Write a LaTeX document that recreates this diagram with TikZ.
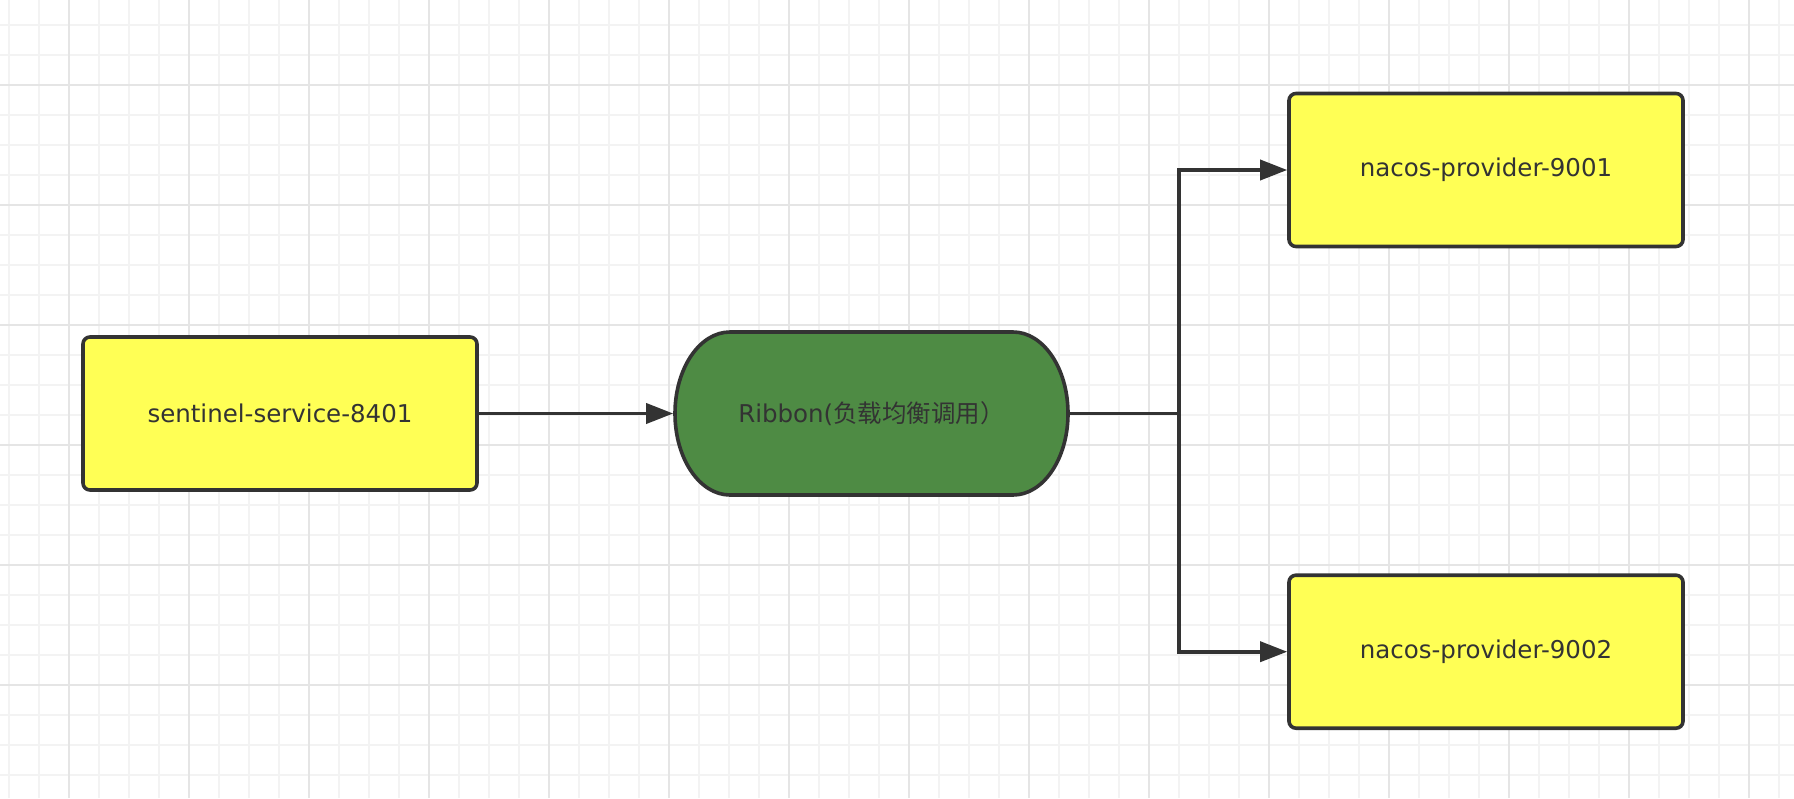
\documentclass[tikz,border=0pt]{standalone}
\usepackage{fontspec}
\setmainfont{DejaVu Sans}
\newfontfamily\cjk{Noto Sans CJK SC}
\usetikzlibrary{arrows.meta}
\definecolor{minorgrid}{RGB}{243,243,243}
\definecolor{majorgrid}{RGB}{229,229,229}
\definecolor{ink}{RGB}{51,51,51}
\definecolor{boxyellow}{RGB}{255,255,85}
\definecolor{ribgreen}{RGB}{78,139,68}
\tikzset{
  stepbox/.style={draw=ink, fill=boxyellow, line width=1.8pt, rounded corners=3.5pt,
    minimum width=197pt, minimum height=76.5pt, inner sep=0pt, text=ink,
    font=\fontsize{12.25pt}{15pt}\selectfont},
  ribshape/.style={draw=ink, fill=ribgreen, line width=1.8pt},
  wire/.style={draw=ink, line width=1.8pt},
  conn/.style={wire, -{Triangle[length=13.5pt,width=10pt]}},
}
\begin{document}
\begin{tikzpicture}[x=0.5pt,y={(0pt,-0.5pt)}]
\fill[white] (0,0) rectangle (1794,798);
\useasboundingbox (0,0) rectangle (1794,798);
% grid
\foreach \i in {0,...,59} \draw[minorgrid, line width=1pt] ({9+30*\i},0) -- ({9+30*\i},798);
\foreach \j in {0,...,25} \draw[minorgrid, line width=1pt] (0,{25+30*\j}) -- (1794,{25+30*\j});
\foreach \i in {0,...,14} \draw[majorgrid, line width=1pt] ({69+120*\i},0) -- ({69+120*\i},798);
\foreach \j in {0,...,5} \draw[majorgrid, line width=1pt] (0,{85+120*\j}) -- (1794,{85+120*\j});
% ribbon shape
\path[ribshape] (730,332) -- (1013,332)
  .. controls (1043.4,332) and (1068,368.5) .. (1068,413.5)
  .. controls (1068,458.5) and (1043.4,495) .. (1013,495)
  -- (730,495)
  .. controls (699.6,495) and (675,458.5) .. (675,413.5)
  .. controls (675,368.5) and (699.6,332) .. (730,332) -- cycle;
% nodes
\node[stepbox] (s) at (280,413.5) {sentinel-service-8401};
\node[text=ink, font=\fontsize{12.25pt}{15pt}\selectfont, minimum width=196.5pt,
  minimum height=81.5pt, inner sep=0pt, outer sep=0.9pt] (rib) at (871.5,413.5)
  {Ribbon({\cjk 负载均衡调用）}};
\node[stepbox] (n1) at (1486,170) {nacos-provider-9001};
\node[stepbox] (n2) at (1486,651.7) {nacos-provider-9002};
\coordinate (j) at (1179,413.5);
% connectors
\draw[conn] (s.east) -- (rib.west);
\draw[wire] (rib.east) -- (j);
\draw[conn] (j) |- (n1.west);
\draw[conn] (j) |- (n2.west);
\end{tikzpicture}
\end{document}
